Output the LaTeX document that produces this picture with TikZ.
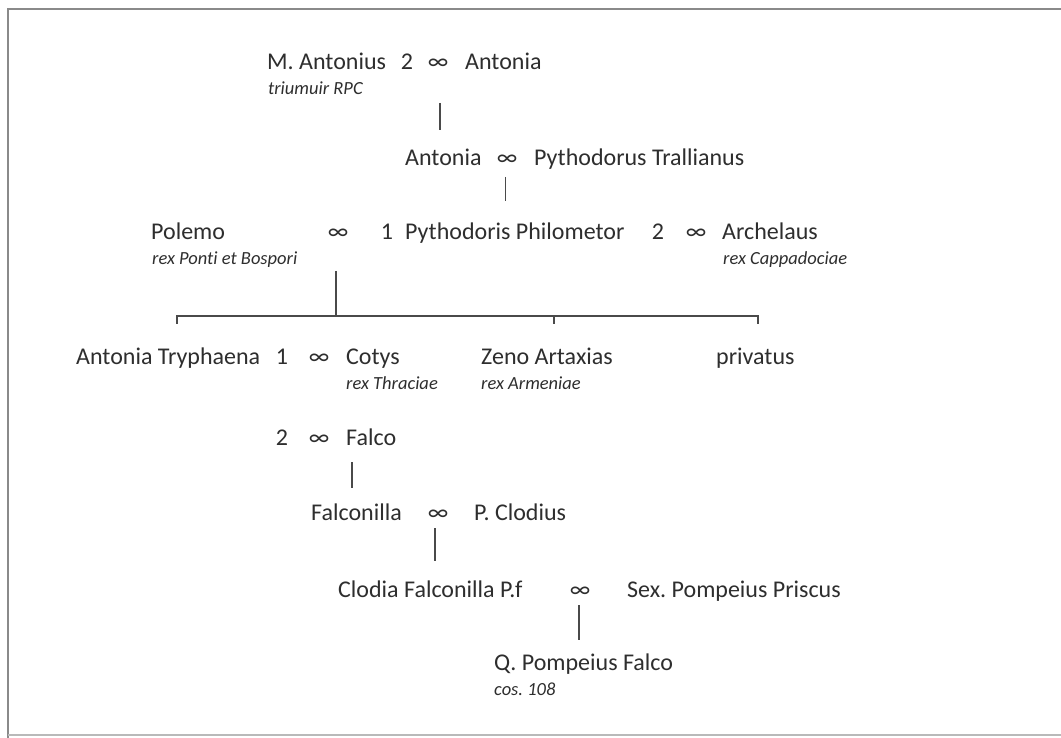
\documentclass[tikz,border=0pt]{standalone}
\usepackage{fontspec}
\setmainfont{Carlito}[Ligatures={NoCommon}]
\definecolor{ink}{HTML}{2E2E2E}
\definecolor{rulec}{HTML}{4A4A4A}
\definecolor{framec}{HTML}{8A8A8A}
\frenchspacing
\begin{document}
\begin{tikzpicture}[x=1pt,y=-1pt,
  nm/.style={anchor=base west,inner sep=0pt,font=\fontsize{24}{28}\selectfont,text=ink},
  sub/.style={anchor=base west,inner sep=0pt,font=\fontsize{18.5}{22}\selectfont\itshape,text=ink},
  mar/.style={anchor=base,inner sep=0pt,font=\fontsize{24}{28}\selectfont,text=ink},
  ln/.style={draw=rulec,line width=1.1pt},
  frame/.style={draw=framec,line width=1.4pt}]
\useasboundingbox (0,0) rectangle (1061,738);
\fill[white] (0,0) rectangle (1061,738);
% frame
\coordinate (f1) at (1061,9);
\coordinate (f2) at (8,9);
\coordinate (f3) at (8,738);
\coordinate (f4) at (8,735);
\coordinate (f5) at (1061,735);
\draw[frame] (f1) -- (f2) -- (f3);
\draw[frame,draw=framec!60] (f4) -- (f5);
% row 1
\node[nm] (manton) at (267,70) {M. Antonius};
\node[mar] (n1) at (407,70) {2};
\node[mar] (m1) at (438,70) {∞};
\node[nm] (anton1) at (465,70) {Antonia};
\node[sub] (trium) at (268,95) {triumuir RPC};
% row 2
\node[nm] (anton2) at (405,166) {Antonia};
\node[mar] (m2) at (507,166) {∞};
\node[nm] (pytho) at (534,166) {Pythodorus Trallianus};
% row 3
\node[nm] (polemo) at (151,240) {Polemo};
\node[mar] (m3) at (338,240) {∞};
\node[mar] (n3a) at (387,240) {1};
\node[nm] (pythodoris) at (405,240) {Pythodoris Philometor};
\node[mar] (n3b) at (658,240) {2};
\node[mar] (m4) at (696,240) {∞};
\node[nm] (arch) at (722,240) {Archelaus};
\node[sub] (rexpb) at (152,265) {rex Ponti et Bospori};
\node[sub] (rexcap) at (723,265) {rex Cappadociae};
% row 4
\node[nm] (tryph) at (76,364) {Antonia Tryphaena};
\node[mar] (n4) at (282,364) {1};
\node[mar] (m5) at (319,364) {∞};
\node[nm] (cotys) at (346,364) {Cotys};
\node[nm] (zeno) at (481,364) {Zeno Artaxias};
\node[nm] (priv) at (716,364) {privatus};
\node[sub] (rexthr) at (346,389) {rex Thraciae};
\node[sub] (rexarm) at (481,389) {rex Armeniae};
% row 5
\node[mar] (n5) at (282,445) {2};
\node[mar] (m6) at (319,445) {∞};
\node[nm] (falco) at (346,445) {Falco};
% row 6
\node[nm] (falconilla) at (311,520) {Falconilla};
\node[mar] (m7) at (438,520) {∞};
\node[nm] (clodius) at (474,520) {P. Clodius};
% row 7
\node[nm] (clodia) at (338,597) {Clodia Falconilla P.f};
\node[mar] (m8) at (580,597) {∞};
\node[nm] (priscus) at (627,597) {Sex. Pompeius Priscus};
% row 8
\node[nm] (qpf) at (494,670) {Q. Pompeius Falco};
\node[sub] (cos) at (494,695) {cos. 108};
% connectors
\coordinate (a1) at (440,103);
\coordinate (a2) at (440,130);
\draw[ln] (a1) -- (a2);
\coordinate (b1) at (505,177);
\coordinate (b2) at (505,201);
\draw[ln,line width=0.8pt] (b1) -- (b2);
\coordinate (c1) at (336,271);
\coordinate (c2) at (336,316);
\draw[ln] (c1) -- (c2);
\coordinate (t1) at (177,324);
\coordinate (t2) at (177,316);
\coordinate (t3) at (758,316);
\coordinate (t4) at (758,324);
\coordinate (t5) at (554,316);
\coordinate (t6) at (554,324);
\draw[ln] (t1) -- (t2) -- (t3) -- (t4);
\draw[ln] (t5) -- (t6);
\coordinate (d1) at (352,462);
\coordinate (d2) at (352,488);
\draw[ln] (d1) -- (d2);
\coordinate (e1) at (435,528);
\coordinate (e2) at (435,561);
\draw[ln] (e1) -- (e2);
\coordinate (g1) at (579,605);
\coordinate (g2) at (579,640);
\draw[ln] (g1) -- (g2);
\end{tikzpicture}
\end{document}
